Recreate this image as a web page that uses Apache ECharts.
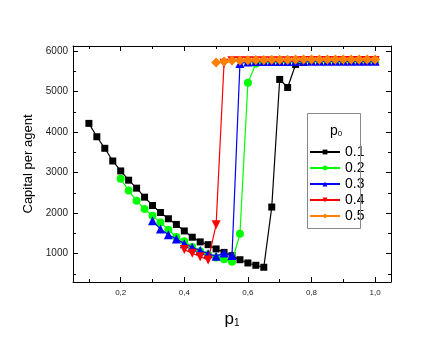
<!DOCTYPE html>
<html lang="en">
<head>
    <meta charset="UTF-8"/>
    <script src="https://cdn.jsdelivr.net/npm/echarts@6/dist/echarts.min.js"></script>
    <title>Capital per agent</title>
</head>
<body style="margin:0;background:#fff">
<div id="main" style="width:436px;height:348px;"></div>
<script type="text/javascript">
    // p1 values and capital per agent, one pair of arrays per p0
    var x01 = [0.1, 0.125, 0.15, 0.175, 0.2, 0.225, 0.25, 0.275, 0.3, 0.325, 0.35, 0.375, 0.4, 0.425, 0.45, 0.475, 0.5,
        0.525, 0.55, 0.575, 0.6, 0.625, 0.65, 0.675, 0.7, 0.725, 0.75, 0.775, 0.8, 0.825, 0.85, 0.875, 0.9, 0.925, 0.95, 0.975, 1.0];
    var y01 = [4215, 3885, 3600, 3287, 3041, 2813, 2616, 2394, 2188, 2016, 1861, 1721, 1560, 1405, 1290, 1222, 1116,
        1030, 950, 850, 770, 713, 664, 2150, 5300, 5100, 5670, 5720, 5750, 5750, 5760, 5760, 5760, 5770, 5770, 5770, 5780];

    var x02 = [0.2, 0.225, 0.25, 0.275, 0.3, 0.325, 0.35, 0.375, 0.4, 0.425, 0.45, 0.475, 0.5,
        0.525, 0.55, 0.575, 0.6, 0.625, 0.65, 0.675, 0.7, 0.725, 0.75, 0.775, 0.8, 0.825, 0.85, 0.875, 0.9, 0.925, 0.95, 0.975, 1.0];
    var y02 = [2846, 2558, 2304, 2099, 1935, 1771, 1591, 1411, 1304, 1165, 1058, 980, 905,
        860, 800, 1490, 5215, 5690, 5740, 5750, 5750, 5750, 5750, 5760, 5760, 5760, 5760, 5760, 5760, 5770, 5770, 5770, 5770];

    var x03 = [0.3, 0.325, 0.35, 0.375, 0.4, 0.425, 0.45, 0.475, 0.5, 0.525, 0.55, 0.575, 0.6, 0.625, 0.65, 0.675, 0.7,
        0.725, 0.75, 0.775, 0.8, 0.825, 0.85, 0.875, 0.9, 0.925, 0.95, 0.975, 1.0];
    var y03 = [1812, 1607, 1468, 1362, 1247, 1156, 1075, 1000, 934, 1018, 951, 5690, 5730, 5740, 5740, 5740, 5740,
        5740, 5740, 5750, 5750, 5750, 5750, 5750, 5750, 5750, 5750, 5750, 5750];

    var x04 = [0.4, 0.425, 0.45, 0.475, 0.5, 0.525, 0.55, 0.575, 0.6, 0.625, 0.65, 0.675, 0.7,
        0.725, 0.75, 0.775, 0.8, 0.825, 0.85, 0.875, 0.9, 0.925, 0.95, 0.975, 1.0];
    var y04 = [1100, 1010, 925, 845, 1710, 5700, 5760, 5760, 5760, 5760, 5760, 5760, 5760,
        5760, 5760, 5770, 5770, 5770, 5770, 5770, 5770, 5770, 5770, 5770, 5770];

    var x05 = [0.5, 0.525, 0.55, 0.575, 0.6, 0.625, 0.65, 0.675, 0.7, 0.725, 0.75, 0.775, 0.8, 0.825, 0.85, 0.875, 0.9, 0.925, 0.95, 0.975, 1.0];
    var y05 = [5716, 5745, 5765, 5770, 5775, 5780, 5780, 5785, 5785, 5785, 5790, 5790, 5790, 5790, 5790, 5790, 5790, 5790, 5790, 5790, 5790];

    var seriesNames = ['0.1', '0.2', '0.3', '0.4', '0.5'];
    var xLabelTicks = [0.2, 0.4, 0.6, 0.8, 1.0];
    var xMinorTicks = [0.1, 0.3, 0.5, 0.7, 0.9];
    var yLabelTicks = [1000, 2000, 3000, 4000, 5000, 6000];
    var yMinorTicks = [500, 1500, 2500, 3500, 4500, 5500];

    function pairs(xs, ys) {
        var out = [];
        for (var i = 0; i < xs.length; i++) {
            out.push([xs[i], ys[i]]);
        }
        return out;
    }

    var FONT = 'Liberation Sans';
    var X_MIN = 0.05, X_MAX = 1.05, Y_MIN = 300, Y_MAX = 6125;

    function xAx(pos, ticks, len, labels, line) {
        return {
            type: 'value', position: pos, min: X_MIN, max: X_MAX,
            axisLine: {show: line, lineStyle: {color: '#000', width: 1}},
            axisTick: {show: true, inside: true, length: len, customValues: ticks, lineStyle: {color: '#000'}},
            axisLabel: labels ? {
                show: true, customValues: ticks, fontSize: 8, color: '#222', fontFamily: FONT, margin: 7,
                formatter: function (v) { return v.toFixed(1).replace('.', ','); }
            } : {show: false},
            splitLine: {show: false}
        };
    }

    function yAx(pos, ticks, len, labels, line) {
        return {
            type: 'value', position: pos, min: Y_MIN, max: Y_MAX,
            axisLine: {show: line, lineStyle: {color: '#000', width: 1}},
            axisTick: {show: true, inside: true, length: len, customValues: ticks, lineStyle: {color: '#000'}},
            axisLabel: labels ? {
                show: true, customValues: ticks, fontSize: 10, color: '#222', fontFamily: FONT, margin: 5,
                formatter: function (v) { return String(Math.round(v)); }
            } : {show: false},
            splitLine: {show: false}
        };
    }

    var xAxes = [
        xAx('bottom', xLabelTicks, 5, true, true),
        xAx('bottom', xMinorTicks, 3, false, false),
        xAx('top', xLabelTicks, 5, false, true),
        xAx('top', xMinorTicks, 3, false, false)
    ];
    xAxes[0].name = '{p|p}{s|1}';
    xAxes[0].nameLocation = 'middle';
    xAxes[0].nameGap = 26;
    xAxes[0].nameTextStyle = {
        rich: {
            p: {fontSize: 17, fontFamily: FONT, color: '#000', lineHeight: 20, verticalAlign: 'bottom'},
            s: {fontSize: 10, fontFamily: FONT, color: '#000', lineHeight: 10, verticalAlign: 'bottom'}
        }
    };

    var yAxes = [
        yAx('left', yLabelTicks, 5, true, true),
        yAx('left', yMinorTicks, 3, false, false),
        yAx('right', yLabelTicks, 5, false, true),
        yAx('right', yMinorTicks, 3, false, false)
    ];
    yAxes[0].name = 'Capital per agent';
    yAxes[0].nameLocation = 'middle';
    yAxes[0].nameGap = 37;
    yAxes[0].nameTextStyle = {fontSize: 13, fontFamily: FONT, color: '#000'};

    var downTri = 'path://M0,0L20,0L10,17Z';
    var styles = [
        {c: '#000000', sym: 'rect', size: 7},
        {c: '#00ff00', sym: 'circle', size: 8},
        {c: '#0000ff', sym: 'triangle', size: 9},
        {c: '#ff0000', sym: downTri, size: 9},
        {c: '#ff8000', sym: 'diamond', size: 10}
    ];
    var datas = [pairs(x01, y01), pairs(x02, y02), pairs(x03, y03), pairs(x04, y04), pairs(x05, y05)];

    var series = [];
    for (var i = 0; i < 5; i++) {
        series.push({
            name: seriesNames[i],
            type: 'line',
            xAxisIndex: 0,
            yAxisIndex: 0,
            data: datas[i],
            symbol: styles[i].sym,
            symbolSize: styles[i].size,
            showAllSymbol: true,
            lineStyle: {color: styles[i].c, width: 1.2},
            itemStyle: {color: styles[i].c},
            z: 2 + i,
            animation: false
        });
    }

    var myChart = echarts.init(document.getElementById('main'), null, {renderer: 'canvas'});
    var option = {
        backgroundColor: '#fff',
        animation: false,
        grid: {left: 73, right: 45, top: 46, bottom: 66, containLabel: false},
        xAxis: xAxes,
        yAxis: yAxes,
        legend: {
            orient: 'vertical',
            left: 309,
            top: 145,
            itemGap: 2,
            itemWidth: 30,
            itemHeight: 6,
            padding: 0,
            textStyle: {fontSize: 14, fontFamily: FONT, color: '#000', lineHeight: 14},
            data: seriesNames
        },
        graphic: [
            {
                type: 'rect',
                shape: {x: 307.5, y: 113.5, width: 53, height: 115},
                style: {fill: 'none', stroke: '#888', lineWidth: 1},
                z: 10
            },
            {
                type: 'text',
                left: 330,
                top: 124,
                style: {
                    text: '{p|p}{s|0}',
                    rich: {
                        p: {fontSize: 14, fontFamily: FONT, fill: '#000', lineHeight: 16, verticalAlign: 'bottom'},
                        s: {fontSize: 8, fontFamily: FONT, fill: '#000', lineHeight: 8, verticalAlign: 'bottom'}
                    }
                },
                z: 10
            }
        ],
        series: series
    };
    myChart.setOption(option);
</script>
</body>
</html>
